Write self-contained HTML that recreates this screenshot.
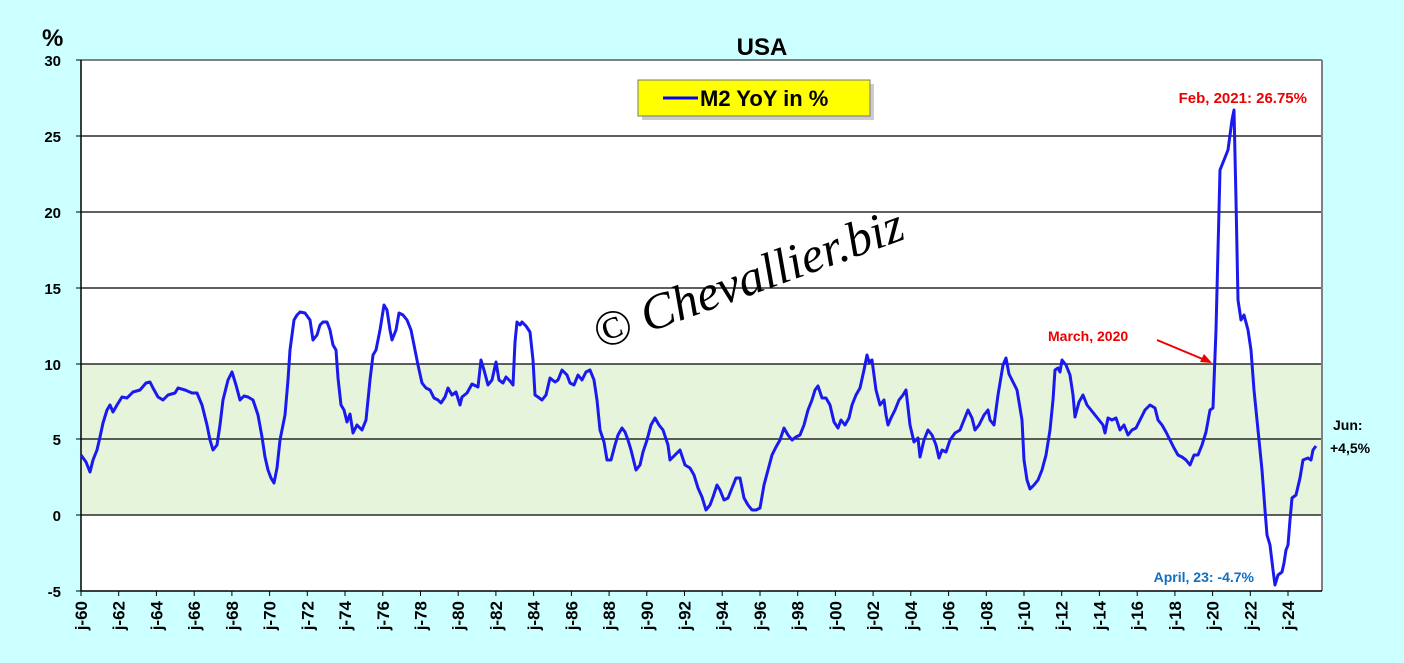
<!DOCTYPE html>
<html><head><meta charset="utf-8"><style>
html,body{margin:0;padding:0;background:#ccffff;}
svg{display:block;font-family:"Liberation Sans",sans-serif;}
</style></head><body>
<svg width="1404" height="663" viewBox="0 0 1404 663">
<rect width="1404" height="663" fill="#ccffff"/>
<rect x="81" y="60" width="1241" height="531" fill="#fff"/>
<rect x="81" y="364" width="1241" height="151" fill="#e6f4dc"/>
<g stroke="#000" stroke-width="1.3">
<line x1="81" y1="136" x2="1322" y2="136"/><line x1="81" y1="212" x2="1322" y2="212"/>
<line x1="81" y1="288" x2="1322" y2="288"/><line x1="81" y1="364" x2="1322" y2="364"/>
<line x1="81" y1="439" x2="1322" y2="439"/><line x1="81" y1="515" x2="1322" y2="515"/>
</g>
<line x1="81" y1="60" x2="1322" y2="60" stroke="#808080" stroke-width="2"/>
<line x1="1322" y1="60" x2="1322" y2="591" stroke="#808080" stroke-width="2"/>
<line x1="81" y1="60" x2="81" y2="591" stroke="#000" stroke-width="1.5"/>
<line x1="81" y1="591" x2="1322" y2="591" stroke="#000" stroke-width="1.5"/>
<g font-weight="bold" font-size="15" text-anchor="end">
<text x="61" y="66">30</text><text x="61" y="142">25</text><text x="61" y="218">20</text>
<text x="61" y="294">15</text><text x="61" y="370">10</text><text x="61" y="445">5</text>
<text x="61" y="521">0</text><text x="61" y="597">-5</text>
</g>
<g stroke="#000"><line x1="76" y1="60" x2="81" y2="60"/><line x1="76" y1="136" x2="81" y2="136"/><line x1="76" y1="212" x2="81" y2="212"/><line x1="76" y1="288" x2="81" y2="288"/><line x1="76" y1="364" x2="81" y2="364"/><line x1="76" y1="439" x2="81" y2="439"/><line x1="76" y1="515" x2="81" y2="515"/><line x1="76" y1="591" x2="81" y2="591"/></g>
<text x="42" y="46" font-size="24" font-weight="bold">%</text>
<text x="762" y="55" font-size="24" font-weight="bold" text-anchor="middle">USA</text>
<g stroke="#000">
<line x1="81" y1="591" x2="81" y2="596"/><line x1="118.7" y1="591" x2="118.7" y2="596"/><line x1="156.4" y1="591" x2="156.4" y2="596"/><line x1="194.2" y1="591" x2="194.2" y2="596"/><line x1="231.9" y1="591" x2="231.9" y2="596"/><line x1="269.6" y1="591" x2="269.6" y2="596"/><line x1="307.3" y1="591" x2="307.3" y2="596"/><line x1="345" y1="591" x2="345" y2="596"/><line x1="382.8" y1="591" x2="382.8" y2="596"/><line x1="420.5" y1="591" x2="420.5" y2="596"/><line x1="458.2" y1="591" x2="458.2" y2="596"/><line x1="495.9" y1="591" x2="495.9" y2="596"/><line x1="533.6" y1="591" x2="533.6" y2="596"/><line x1="571.4" y1="591" x2="571.4" y2="596"/><line x1="609.1" y1="591" x2="609.1" y2="596"/><line x1="646.8" y1="591" x2="646.8" y2="596"/><line x1="684.5" y1="591" x2="684.5" y2="596"/><line x1="722.2" y1="591" x2="722.2" y2="596"/><line x1="760" y1="591" x2="760" y2="596"/><line x1="797.7" y1="591" x2="797.7" y2="596"/><line x1="835.4" y1="591" x2="835.4" y2="596"/><line x1="873.1" y1="591" x2="873.1" y2="596"/><line x1="910.8" y1="591" x2="910.8" y2="596"/><line x1="948.6" y1="591" x2="948.6" y2="596"/><line x1="986.3" y1="591" x2="986.3" y2="596"/><line x1="1024" y1="591" x2="1024" y2="596"/><line x1="1061.7" y1="591" x2="1061.7" y2="596"/><line x1="1099.4" y1="591" x2="1099.4" y2="596"/><line x1="1137.2" y1="591" x2="1137.2" y2="596"/><line x1="1174.9" y1="591" x2="1174.9" y2="596"/><line x1="1212.6" y1="591" x2="1212.6" y2="596"/><line x1="1250.3" y1="591" x2="1250.3" y2="596"/><line x1="1288" y1="591" x2="1288" y2="596"/>
</g>
<g font-weight="bold" font-size="17" text-anchor="end">
<text transform="translate(87,601) rotate(-90)">j-60</text>
<text transform="translate(124.7,601) rotate(-90)">j-62</text>
<text transform="translate(162.4,601) rotate(-90)">j-64</text>
<text transform="translate(200.2,601) rotate(-90)">j-66</text>
<text transform="translate(237.9,601) rotate(-90)">j-68</text>
<text transform="translate(275.6,601) rotate(-90)">j-70</text>
<text transform="translate(313.3,601) rotate(-90)">j-72</text>
<text transform="translate(351,601) rotate(-90)">j-74</text>
<text transform="translate(388.8,601) rotate(-90)">j-76</text>
<text transform="translate(426.5,601) rotate(-90)">j-78</text>
<text transform="translate(464.2,601) rotate(-90)">j-80</text>
<text transform="translate(501.9,601) rotate(-90)">j-82</text>
<text transform="translate(539.6,601) rotate(-90)">j-84</text>
<text transform="translate(577.4,601) rotate(-90)">j-86</text>
<text transform="translate(615.1,601) rotate(-90)">j-88</text>
<text transform="translate(652.8,601) rotate(-90)">j-90</text>
<text transform="translate(690.5,601) rotate(-90)">j-92</text>
<text transform="translate(728.2,601) rotate(-90)">j-94</text>
<text transform="translate(766,601) rotate(-90)">j-96</text>
<text transform="translate(803.7,601) rotate(-90)">j-98</text>
<text transform="translate(841.4,601) rotate(-90)">j-00</text>
<text transform="translate(879.1,601) rotate(-90)">j-02</text>
<text transform="translate(916.8,601) rotate(-90)">j-04</text>
<text transform="translate(954.6,601) rotate(-90)">j-06</text>
<text transform="translate(992.3,601) rotate(-90)">j-08</text>
<text transform="translate(1030,601) rotate(-90)">j-10</text>
<text transform="translate(1067.7,601) rotate(-90)">j-12</text>
<text transform="translate(1105.4,601) rotate(-90)">j-14</text>
<text transform="translate(1143.2,601) rotate(-90)">j-16</text>
<text transform="translate(1180.9,601) rotate(-90)">j-18</text>
<text transform="translate(1218.6,601) rotate(-90)">j-20</text>
<text transform="translate(1256.3,601) rotate(-90)">j-22</text>
<text transform="translate(1294,601) rotate(-90)">j-24</text>
</g>
<rect x="642" y="84" width="232" height="36" fill="#999" opacity="0.5"/>
<rect x="638" y="80" width="232" height="36" fill="#ffff00" stroke="#777"/>
<line x1="663" y1="98" x2="698" y2="98" stroke="#0000ff" stroke-width="3"/>
<text x="700" y="106" font-size="22" font-weight="bold">M2 YoY in %</text>
<text x="600" y="350" font-family="'Liberation Serif',serif" font-style="italic" font-size="50" transform="rotate(-20 600 350)">© Chevallier.biz</text>
<polyline fill="none" stroke="#1a1aee" stroke-width="3" stroke-linejoin="round" points="81,455 86,462 90,472 93,460 97,450 100,437 103,423 107,410 110,405 113,412 117,405 122,397 127,398 133,392 140,390 146,383 150,382 153,388 158,397 163,400 168,395 175,393 178,388 185,390 192,393 197,393 202,405 207,425 210,440 213,450 217,445 220,425 223,400 228,380 232,372 236,385 240,400 244,396 248,397 253,400 258,415 262,437 265,457 268,470 271,478 274,483 277,468 280,440 285,415 288,380 290,350 294,320 297,315 300,312 305,313 310,320 313,340 317,335 320,325 323,322 327,322 330,330 333,345 336,350 338,378 341,405 344,410 347,422 350,414 353,433 357,425 362,430 366,420 370,380 373,355 376,350 380,330 384,305 387,310 390,330 392,340 396,330 399,313 403,315 407,320 411,330 415,350 418,365 422,383 426,388 430,390 434,398 438,400 441,403 445,397 448,388 452,395 456,392 460,405 462,397 467,393 472,384 478,387 481,360 484,370 488,385 492,380 496,362 499,380 503,383 506,377 510,381 513,385 515,342 517,322 520,325 522,322 526,326 530,332 533,360 535,395 538,397 542,400 546,395 550,378 555,382 558,380 562,370 567,375 570,383 574,385 578,375 582,380 586,372 590,370 594,380 597,400 600,430 604,442 607,460 611,460 615,445 618,435 622,428 625,432 628,440 631,450 634,462 636,470 640,465 643,452 647,440 651,425 655,418 659,425 663,430 668,445 670,460 675,455 680,450 685,465 690,468 694,475 698,488 702,497 706,510 710,505 713,497 717,485 720,490 724,500 728,498 732,488 736,478 740,478 744,498 748,505 752,510 756,510 760,508 764,485 768,470 772,455 776,447 780,440 784,428 788,435 792,440 796,437 800,435 804,425 808,410 812,400 815,390 818,386 822,398 826,398 830,405 834,422 838,428 841,420 845,425 849,418 852,405 856,395 860,388 864,370 867,355 869,362 872,360 876,390 880,405 884,400 886,415 888,425 891,418 895,410 899,400 903,395 906,390 910,425 914,442 918,438 920,457 924,440 928,430 932,435 936,445 939,458 942,450 946,452 950,440 955,433 960,430 964,420 968,410 972,418 975,430 979,425 984,415 988,410 990,420 994,425 998,395 1003,365 1006,358 1009,374 1013,382 1017,390 1020,408 1022,420 1024,460 1027,480 1030,489 1034,485 1038,480 1042,470 1046,455 1050,430 1053,400 1055,370 1058,368 1060,372 1062,360 1066,365 1070,375 1073,395 1075,417 1079,402 1083,395 1087,405 1091,410 1095,415 1099,420 1103,425 1105,433 1108,418 1112,420 1116,418 1120,430 1124,425 1128,435 1132,430 1136,428 1140,420 1145,410 1150,405 1155,408 1158,420 1162,425 1166,432 1170,440 1174,448 1178,455 1182,457 1186,460 1190,465 1194,455 1198,455 1202,445 1206,432 1210,410 1213,408 1216,330 1218,250 1220,170 1224,160 1228,150 1232,120 1234,110 1236,200 1238,300 1241,320 1244,315 1248,330 1251,350 1254,390 1257,420 1259,440 1262,470 1265,510 1267,535 1270,545 1273,570 1275,585 1278,575 1282,572 1284,563 1286,550 1288,545 1290,520 1292,498 1296,495 1300,478 1303,460 1308,458 1311,460 1313,450 1316,446"/>
<text x="1307" y="103" font-size="15" font-weight="bold" fill="#ee0000" text-anchor="end">Feb, 2021: 26.75%</text>
<text x="1048" y="341" font-size="14" font-weight="bold" fill="#ee0000">March, 2020</text>
<line x1="1157" y1="340" x2="1205" y2="360" stroke="#ee0000" stroke-width="2"/>
<polygon points="1212,363 1200,362 1204,354" fill="#ee0000"/>
<text x="1254" y="582" font-size="14" font-weight="bold" fill="#1070c0" text-anchor="end">April, 23: -4.7%</text>
<text x="1333" y="430" font-size="14" font-weight="bold">Jun:</text>
<text x="1330" y="453" font-size="14" font-weight="bold">+4,5%</text>
</svg>
</body></html>
